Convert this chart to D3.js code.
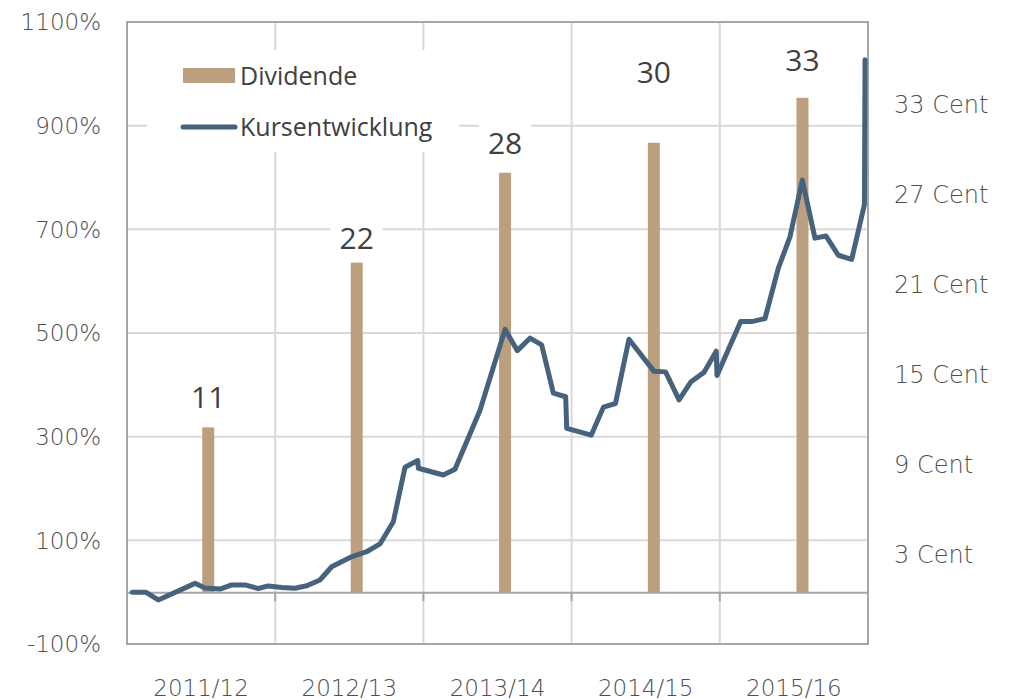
<!DOCTYPE html>
<html>
<head>
<meta charset="utf-8">
<script src="https://cdn.jsdelivr.net/npm/d3@7/dist/d3.min.js"></script>
<style>
	body { margin:0; background:#fff; }
	text { font-family: "Open Sans", sans-serif; }
	.axislab { font-family: "DejaVu Sans", sans-serif; font-weight: 200; }
</style>
</head>
<body>
<div id="chart"></div>
<script>
// Geschäftsjahre
var years = ["2011/12","2012/13","2013/14","2014/15","2015/16"]
// Dividende in Cent
var dividends = [11, 22, 28, 30, 33]
// Zeitpunkt der Dividende (Jahre seit Beginn 2011/12)
var dividendTimes = [0.548, 1.550, 2.551, 3.555, 4.558]
// Höhe der Beschriftungen (in % der linken Achse)
var dividendLabelLevel = [376, 683, 866, 1003, 1026]
// Kursentwicklung: Zeitpunkt (Jahre) und Veränderung in %
var priceTimes = [0.036,0.126,0.211,0.459,0.526,0.628,0.706,0.796,0.886,0.953,
	1.044,1.134,1.213,1.302,1.381,1.505,1.617,1.707,1.797,1.876,
	1.962,1.966,2.134,2.213,2.382,2.551,2.634,2.719,2.798,2.877,
	2.960,2.967,3.133,3.215,3.296,3.387,3.556,3.634,3.725,3.806,
	3.893,3.976,3.981,4.141,4.215,4.305,4.395,4.474,4.557,4.642,
	4.717,4.800,4.890,4.976,4.980]
var priceChange = [0,0,-15,17,8,6,14,14,7,12,
	9,7.5,12.5,23.5,49,67,78,93,136,241,
	254,239,226,237,351,507,466,490,477,384,
	377,316,303,357,364,488,426,425,371,406,
	424,465,418,522,522,528,625,686,795,683,
	687,650,642,748,1027]
var leftTicks = [-100,100,300,500,700,900,1100]
var rightTicks = [3,9,15,21,27,33]
// 1 Cent Dividende entspricht so viel % auf der linken Achse
var centToPct = 28.9

var W = 1018, H = 700
var plotLeft = 127, plotRight = 868, plotTop = 22, plotBottom = 644

var svg = d3.select("#chart")
	.append("svg")
	.attr("width", W)
	.attr("height", H)

var x = d3.scaleLinear().domain([0, years.length]).range([plotLeft, plotRight])
var xBand = d3.scaleBand().domain(years).range([plotLeft, plotRight])
var y = d3.scaleLinear().domain([-100, 1100]).range([plotBottom, plotTop])
var yRight = d3.scaleLinear().domain([-3, 38.5]).range([plotBottom, plotTop])

//grid lines
svg.selectAll(".hgrid")
	.data(leftTicks.slice(1, -1))
	.enter()
	.append("line")
	.attr("class","hgrid")
	.attr("x1", plotLeft).attr("x2", plotRight)
	.attr("y1", function(d){ return y(d) })
	.attr("y2", function(d){ return y(d) })
	.attr("stroke","#d9d9d9")
	.attr("stroke-width",2)

svg.selectAll(".vgrid")
	.data(years.slice(1))
	.enter()
	.append("line")
	.attr("class","vgrid")
	.attr("x1", function(d){ return xBand(d) })
	.attr("x2", function(d){ return xBand(d) })
	.attr("y1", plotTop).attr("y2", plotBottom)
	.attr("stroke","#d9d9d9")
	.attr("stroke-width",2)

//frame
svg.append("rect")
	.attr("x", plotLeft).attr("y", plotTop)
	.attr("width", plotRight-plotLeft).attr("height", plotBottom-plotTop)
	.attr("fill","none")
	.attr("stroke","#a6a6a6")
	.attr("stroke-width",2)

//zero line with ticks
var xAxis = d3.axisBottom(xBand).tickSize(0).tickFormat("")
var zero = svg.append("g")
	.attr("transform","translate(0," + y(0) + ")")
	.call(xAxis)
zero.select(".domain").attr("stroke","#a6a6a6").attr("stroke-width",2)
zero.selectAll(".sep")
	.data(years.slice(1))
	.enter()
	.append("line")
	.attr("class","sep")
	.attr("x1", function(d){ return xBand(d) })
	.attr("x2", function(d){ return xBand(d) })
	.attr("y1", 0).attr("y2", 9)
	.attr("stroke","#a6a6a6")
	.attr("stroke-width",2)

//left axis labels
svg.selectAll(".ylab")
	.data(leftTicks)
	.enter()
	.append("text")
	.attr("class","ylab axislab")
	.attr("x", 101)
	.attr("y", function(d){ return y(d) })
	.attr("dy","0.36em")
	.attr("text-anchor","end")
	.attr("font-size","23px")
	.attr("fill","#4f4f4f")
	.text(function(d){ return d + "%" })

//right axis labels
svg.selectAll(".rlab")
	.data(rightTicks)
	.enter()
	.append("text")
	.attr("class","rlab axislab")
	.attr("x", 894)
	.attr("y", function(d){ return yRight(d) })
	.attr("dy","0.36em")
	.attr("font-size","24px")
	.attr("fill","#4f4f4f")
	.text(function(d){ return d + " Cent" })

//category labels
svg.selectAll(".xlab")
	.data(years)
	.enter()
	.append("text")
	.attr("class","xlab axislab")
	.attr("x", function(d){ return xBand(d) + xBand.bandwidth()/2 })
	.attr("y", 696)
	.attr("text-anchor","middle")
	.attr("font-size","23px")
	.attr("fill","#4f4f4f")
	.text(function(d){ return d })

//dividend bars
svg.selectAll(".bar")
	.data(dividends)
	.enter()
	.append("rect")
	.attr("class","bar")
	.attr("x", function(d,i){ return x(dividendTimes[i]) - 6 })
	.attr("width", 12)
	.attr("y", function(d){ return y(d*centToPct) })
	.attr("height", function(d){ return y(0) - y(d*centToPct) })
	.attr("fill","#bc9f7f")

//price line
var points = priceTimes.map(function(t,i){ return [t, priceChange[i]] })
var line = d3.line()
	.x(function(d){ return x(d[0]) })
	.y(function(d){ return y(d[1]) })
svg.append("path")
	.datum(points)
	.attr("d", line)
	.attr("fill","none")
	.attr("stroke","#46627c")
	.attr("stroke-width",5)
	.attr("stroke-linejoin","round")
	.attr("stroke-linecap","round")

//dividend labels
var lab = svg.selectAll(".dlab")
	.data(dividends)
	.enter()
	.append("g")
	.attr("class","dlab")
	.attr("transform", function(d,i){
		return "translate(" + x(dividendTimes[i]) + "," + y(dividendLabelLevel[i]) + ")"
	})
lab.append("rect")
	.attr("x",-26).attr("y",-20)
	.attr("width",52).attr("height",40)
	.attr("fill","#fff")
lab.append("text")
	.attr("text-anchor","middle")
	.attr("dy","0.36em")
	.attr("font-size","30px")
	.attr("fill","#404040")
	.text(function(d){ return d })

//legend
var legend = svg.append("g")
legend.append("rect")
	.attr("x",147).attr("y",50)
	.attr("width",312).attr("height",102)
	.attr("fill","#fff")
legend.append("rect")
	.attr("x",183).attr("y",68)
	.attr("width",52).attr("height",15)
	.attr("fill","#bc9f7f")
legend.append("line")
	.attr("x1",183).attr("x2",235)
	.attr("y1",127).attr("y2",127)
	.attr("stroke","#46627c")
	.attr("stroke-width",5)
	.attr("stroke-linecap","round")
legend.selectAll(".ltxt")
	.data(["Dividende","Kursentwicklung"])
	.enter()
	.append("text")
	.attr("class","ltxt")
	.attr("x",240)
	.attr("y",function(d,i){ return 76 + i*51 })
	.attr("dy","0.36em")
	.attr("font-size","25px")
	.attr("fill","#404040")
	.text(function(d){ return d })
</script>
</body>
</html>
